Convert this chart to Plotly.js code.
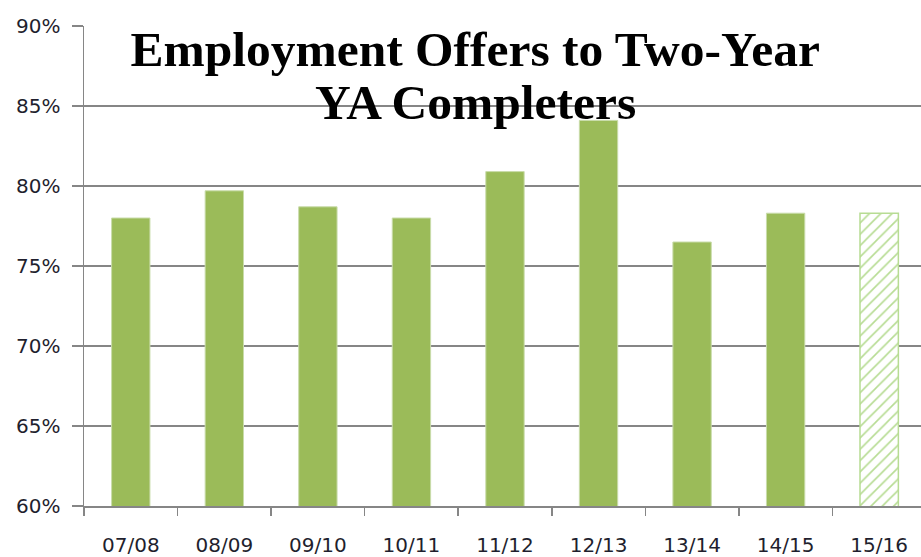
<!DOCTYPE html>
<html><head><meta charset="utf-8">
<script src="https://cdn.plot.ly/plotly-3.0.1.min.js"></script>
<style>html,body{margin:0;padding:0;background:#fff}#c{width:921px;height:557px}</style>
</head><body><div id="c"></div>
<script>
const years = ["07/08","08/09","09/10","10/11","11/12","12/13","13/14","14/15","15/16"];
const offerRate = [0.780, 0.797, 0.787, 0.780, 0.809, 0.841, 0.765, 0.783, 0.783];
const projected = [false,false,false,false,false,false,false,false,true];
const yTicks = [0.60,0.65,0.70,0.75,0.80,0.85,0.90];
const yTickLabels = ["60%","65%","70%","75%","80%","85%","90%"];
const titleLine1 = "Employment Offers to Two-Year";
const titleLine2 = "YA Completers";

const actualX = years.filter((y,i)=>!projected[i]);
const actualY = offerRate.filter((v,i)=>!projected[i]);
const projX = years.filter((y,i)=>projected[i]);
const projY = offerRate.filter((v,i)=>projected[i]);

const titleFont = {family:'Liberation Serif, serif', size:49.5, color:'#000', weight:'bold'};
const tickFont = {family:'DejaVu Sans, sans-serif', size:20, color:'#1f1f2e'};

const traces = [
 {type:'bar', x:actualX, y:actualY, width:0.41,
  marker:{color:'#9BBB59', line:{color:'#c9dcaa', width:1}}, hoverinfo:'x+y'},
 {type:'bar', x:projX, y:projY, width:0.41,
  marker:{color:'#ffffff', line:{color:'#b7dc93', width:1.5},
   pattern:{shape:'/', fgcolor:'#b7dc93', bgcolor:'#ffffff', size:8, solidity:0.2}}}
];
const layout = {
 width:921, height:557, showlegend:false, barmode:'overlay',
 paper_bgcolor:'#fff', plot_bgcolor:'#fff',
 margin:{l:84, r:0, t:26, b:51},
 title:{text:titleLine1, xref:'container', x:0.516, xanchor:'center',
   yref:'container', y:0.944, yanchor:'top', font:titleFont},
 annotations:[{text:titleLine2, xref:'paper', yref:'paper', x:0.468, y:0.84,
   xanchor:'center', yanchor:'middle', showarrow:false, font:titleFont}],
 xaxis:{type:'category', categoryorder:'array', categoryarray:years, range:[-0.5, 8.447],
   showgrid:false, showline:true, linecolor:'#868686', linewidth:1.5,
   ticks:'outside', tickson:'boundaries', ticklen:8, tickcolor:'#868686', tickwidth:1.5,
   ticklabelstandoff:20, tickfont:tickFont},
 yaxis:{range:[0.60,0.90], tickvals:yTicks, ticktext:yTickLabels,
   showgrid:true, gridcolor:'#868686', gridwidth:1.5, zeroline:false,
   showline:true, linecolor:'#868686', linewidth:1.5,
   ticks:'outside', ticklen:11, tickcolor:'#868686', tickwidth:1.5,
   ticklabelstandoff:7, tickfont:tickFont}
};
Plotly.newPlot('c', traces, layout, {displayModeBar:false, staticPlot:true});
</script></body></html>
